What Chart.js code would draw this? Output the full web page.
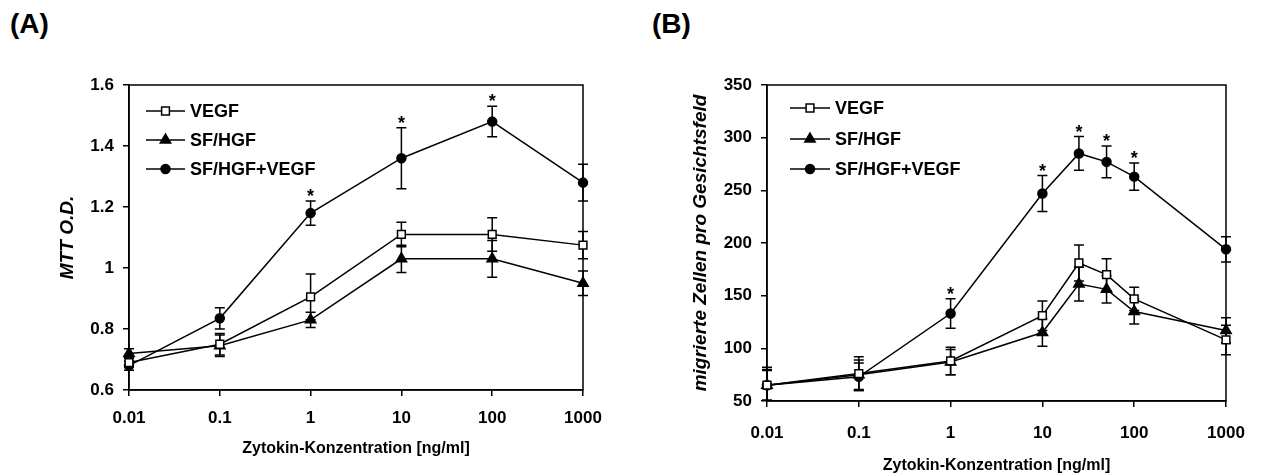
<!DOCTYPE html>
<html>
<head>
<meta charset="utf-8">
<script src="https://cdn.jsdelivr.net/npm/chart.js@4.4.0/dist/chart.umd.min.js"></script>
<style>
  html, body { margin: 0; padding: 0; background: #fff; overflow: hidden; }
  body { width: 1263px; height: 475px; position: relative; font-family: Arial, "Liberation Sans", sans-serif; }
  .panel-label { position: absolute; top: 8px; font-weight: bold; font-size: 28px; color: #000; }
  .chart-box { position: absolute; top: 0; height: 475px; }
</style>
</head>
<body>
<div class="panel-label" style="left:10px">(A)</div>
<div class="panel-label" style="left:652px">(B)</div>
<div class="chart-box" style="left:0;width:620px"><canvas id="chartA"></canvas></div>
<div class="chart-box" style="left:640px;width:623px"><canvas id="chartB"></canvas></div>
<script>
const FONT = 'Arial, "Liberation Sans", sans-serif';
const seriesNames = ['VEGF', 'SF/HGF', 'SF/HGF+VEGF'];
const xTickValues = [0.01, 0.1, 1, 10, 100, 1000];
const xTickLabels = ['0.01', '0.1', '1', '10', '100', '1000'];

// (A) MTT O.D.
const doseA = [0.01, 0.1, 1, 10, 100, 1000];
const vegfA = [0.69, 0.75, 0.905, 1.11, 1.11, 1.075];
const vegfErrA = [0.015, 0.035, 0.075, 0.04, 0.055, 0.045];
const hgfA = [0.72, 0.745, 0.83, 1.03, 1.03, 0.95];
const hgfErrA = [0.015, 0.035, 0.025, 0.045, 0.06, 0.04];
const comboA = [0.68, 0.835, 1.18, 1.36, 1.48, 1.28];
const comboErrA = [0.015, 0.035, 0.04, 0.1, 0.05, 0.06];
const starsA = [false, false, true, true, true, false];
const yTicksA = [0.6, 0.8, 1, 1.2, 1.4, 1.6];
const yLabelsA = ['0.6', '0.8', '1', '1.2', '1.4', '1.6'];

// (B) migrierte Zellen
const doseB = [0.01, 0.1, 1, 10, 25, 50, 100, 1000];
const vegfB = [65, 76, 88, 131, 181, 170, 147, 108];
const vegfErrB = [17, 16, 13, 14, 17, 15, 11, 14];
const hgfB = [65, 75, 87, 115, 161, 156, 135, 117];
const hgfErrB = [15, 14, 12, 13, 16, 13, 12, 12];
const comboB = [65, 73, 133, 247, 285, 277, 263, 194];
const comboErrB = [14, 13, 14, 17, 16, 15, 13, 12];
const starsB = [false, false, true, true, true, true, true, false];
const yTicksB = [50, 100, 150, 200, 250, 300, 350];
const yLabelsB = ['50', '100', '150', '200', '250', '300', '350'];

const markerStyles = [
  { pointStyle: 'rect', radius: 5.5, fill: '#fff' },
  { pointStyle: 'triangle', radius: 6, fill: '#000' },
  { pointStyle: 'circle', radius: 4.5, fill: '#000' }
];

function makeDataset(i, dose, vals, errs, stars) {
  const m = markerStyles[i];
  return {
    label: seriesNames[i],
    data: dose.map((d, k) => ({ x: d, y: vals[k] })),
    errors: errs,
    stars: stars || null,
    clip: false,
    borderColor: '#000',
    borderWidth: 1.5,
    pointStyle: m.pointStyle,
    pointRadius: m.radius,
    pointBackgroundColor: m.fill,
    pointBorderColor: '#000',
    pointBorderWidth: 1.5,
    tension: 0,
    fill: false
  };
}

function drawMarker(ctx, style, x, y) {
  const m = markerStyles[style];
  ctx.beginPath();
  if (m.pointStyle === 'rect') {
    const s = m.radius * Math.SQRT1_2;
    ctx.rect(x - s, y - s, 2 * s, 2 * s);
  } else if (m.pointStyle === 'triangle') {
    const r = m.radius;
    ctx.moveTo(x, y - r);
    ctx.lineTo(x + r * Math.sin(Math.PI / 3), y + r / 2);
    ctx.lineTo(x - r * Math.sin(Math.PI / 3), y + r / 2);
    ctx.closePath();
  } else {
    ctx.arc(x, y, m.radius, 0, Math.PI * 2);
  }
  ctx.fillStyle = m.fill;
  ctx.fill();
  ctx.stroke();
}

const errorBars = {
  id: 'errorBars',
  beforeDatasetsDraw(chart) {
    const { ctx, chartArea, scales: { x, y } } = chart;
    ctx.save();
    ctx.beginPath();
    ctx.rect(chartArea.left - 10, chartArea.top - 30, chartArea.width + 20, chartArea.height + 30);
    ctx.clip();
    ctx.strokeStyle = '#000';
    ctx.lineWidth = 1.5;
    chart.data.datasets.forEach(ds => {
      ds.data.forEach((p, i) => {
        const e = ds.errors[i];
        const px = x.getPixelForValue(p.x);
        const top = y.getPixelForValue(p.y + e);
        const bot = y.getPixelForValue(p.y - e);
        ctx.beginPath();
        ctx.moveTo(px, top); ctx.lineTo(px, bot);
        ctx.moveTo(px - 5, top); ctx.lineTo(px + 5, top);
        ctx.moveTo(px - 5, bot); ctx.lineTo(px + 5, bot);
        ctx.stroke();
      });
    });
    ctx.restore();
  },
  afterDatasetsDraw(chart) {
    const { ctx, scales: { x, y } } = chart;
    ctx.save();
    ctx.fillStyle = '#000';
    ctx.font = 'bold 18px ' + FONT;
    ctx.textAlign = 'center';
    ctx.textBaseline = 'alphabetic';
    chart.data.datasets.forEach(ds => {
      if (!ds.stars) return;
      ds.data.forEach((p, i) => {
        if (!ds.stars[i]) return;
        const px = x.getPixelForValue(p.x);
        const top = y.getPixelForValue(p.y + ds.errors[i]);
        ctx.fillText('*', px, top + 1);
      });
    });
    ctx.restore();
  }
};

const frameAndLegend = {
  id: 'frameAndLegend',
  beforeDatasetsDraw(chart) {
    const { ctx, chartArea: a } = chart;
    ctx.save();
    ctx.strokeStyle = '#000';
    ctx.lineWidth = 1.5;
    ctx.strokeRect(a.left, a.top, a.width, a.height);
    ctx.restore();
  },
  afterDraw(chart, args, opts) {
    const { ctx, chartArea: a } = chart;
    ctx.save();
    ctx.strokeStyle = '#000';
    ctx.lineWidth = 1.5;
    ctx.font = 'bold 18px ' + FONT;
    ctx.textBaseline = 'middle';
    ctx.textAlign = 'left';
    chart.data.datasets.forEach((ds, i) => {
      const yy = a.top + opts.rows[i];
      const x0 = a.left + opts.lineStart;
      ctx.beginPath();
      ctx.moveTo(x0, yy);
      ctx.lineTo(x0 + opts.lineLen, yy);
      ctx.stroke();
      drawMarker(ctx, i, x0 + opts.lineLen / 2, yy);
      ctx.fillStyle = '#000';
      ctx.fillText(ds.label, x0 + opts.lineLen + 5, yy + 1);
    });
    ctx.restore();
  }
};

function buildChart(id, cfg) {
  return new Chart(document.getElementById(id), {
    type: 'line',
    data: { datasets: cfg.datasets },
    plugins: [errorBars, frameAndLegend],
    options: {
      responsive: true,
      maintainAspectRatio: false,
      animation: false,
      layout: { padding: { top: 85, right: cfg.padRight, left: 0, bottom: 0 } },
      plugins: {
        legend: { display: false },
        tooltip: { enabled: false },
        frameAndLegend: cfg.legend
      },
      scales: {
        x: {
          type: 'logarithmic',
          min: 0.01,
          max: 1000,
          afterBuildTicks: s => { s.ticks = xTickValues.map(v => ({ value: v })); },
          afterFit: s => { s.height = cfg.xHeight; },
          grid: { drawOnChartArea: false, color: '#000', tickLength: 6, lineWidth: 1.5 },
          border: { color: '#000', width: 1.5 },
          ticks: {
            autoSkip: false, maxRotation: 0, color: '#000', padding: cfg.xPad,
            font: { family: FONT, size: 17, weight: 'bold' },
            callback: (v, i) => xTickLabels[i]
          },
          title: {
            display: true, text: 'Zytokin-Konzentration [ng/ml]', color: '#000',
            font: { family: FONT, size: 16, weight: 'bold' },
            padding: { top: 0, bottom: cfg.xTitlePad }
          }
        },
        y: {
          type: 'linear',
          min: cfg.yTicks[0],
          max: cfg.yTicks[cfg.yTicks.length - 1],
          afterBuildTicks: s => { s.ticks = cfg.yTicks.map(v => ({ value: v })); },
          afterFit: s => { s.width = cfg.yWidth; },
          grid: { drawOnChartArea: false, color: '#000', tickLength: 6, lineWidth: 1.5 },
          border: { color: '#000', width: 1.5 },
          ticks: {
            color: '#000', padding: 9,
            font: { family: FONT, size: 17, weight: 'bold' },
            callback: (v, i) => cfg.yLabels[i]
          },
          title: {
            display: true, text: cfg.yTitle, color: '#000',
            font: { family: FONT, size: 19, weight: 'bold', style: 'italic' },
            padding: { top: cfg.yTitlePad, bottom: 0 }
          }
        }
      }
    }
  });
}

buildChart('chartA', {
  datasets: [
    makeDataset(0, doseA, vegfA, vegfErrA),
    makeDataset(1, doseA, hgfA, hgfErrA),
    makeDataset(2, doseA, comboA, comboErrA, starsA)
  ],
  yTicks: yTicksA, yLabels: yLabelsA, yTitle: 'MTT O.D.',
  yWidth: 129, padRight: 37, xHeight: 85, xPad: 12, xTitlePad: 17, yTitlePad: 56,
  legend: { rows: [26, 55, 84], lineStart: 17, lineLen: 39 }
});

buildChart('chartB', {
  datasets: [
    makeDataset(0, doseB, vegfB, vegfErrB),
    makeDataset(1, doseB, hgfB, hgfErrB),
    makeDataset(2, doseB, comboB, comboErrB, starsB)
  ],
  yTicks: yTicksB, yLabels: yLabelsB, yTitle: 'migrierte Zellen pro Gesichtsfeld',
  yWidth: 127, padRight: 37, xHeight: 74, xPad: 16, xTitlePad: 0, yTitlePad: 49,
  legend: { rows: [23, 54, 84], lineStart: 23, lineLen: 40 }
});
</script>
</body>
</html>
